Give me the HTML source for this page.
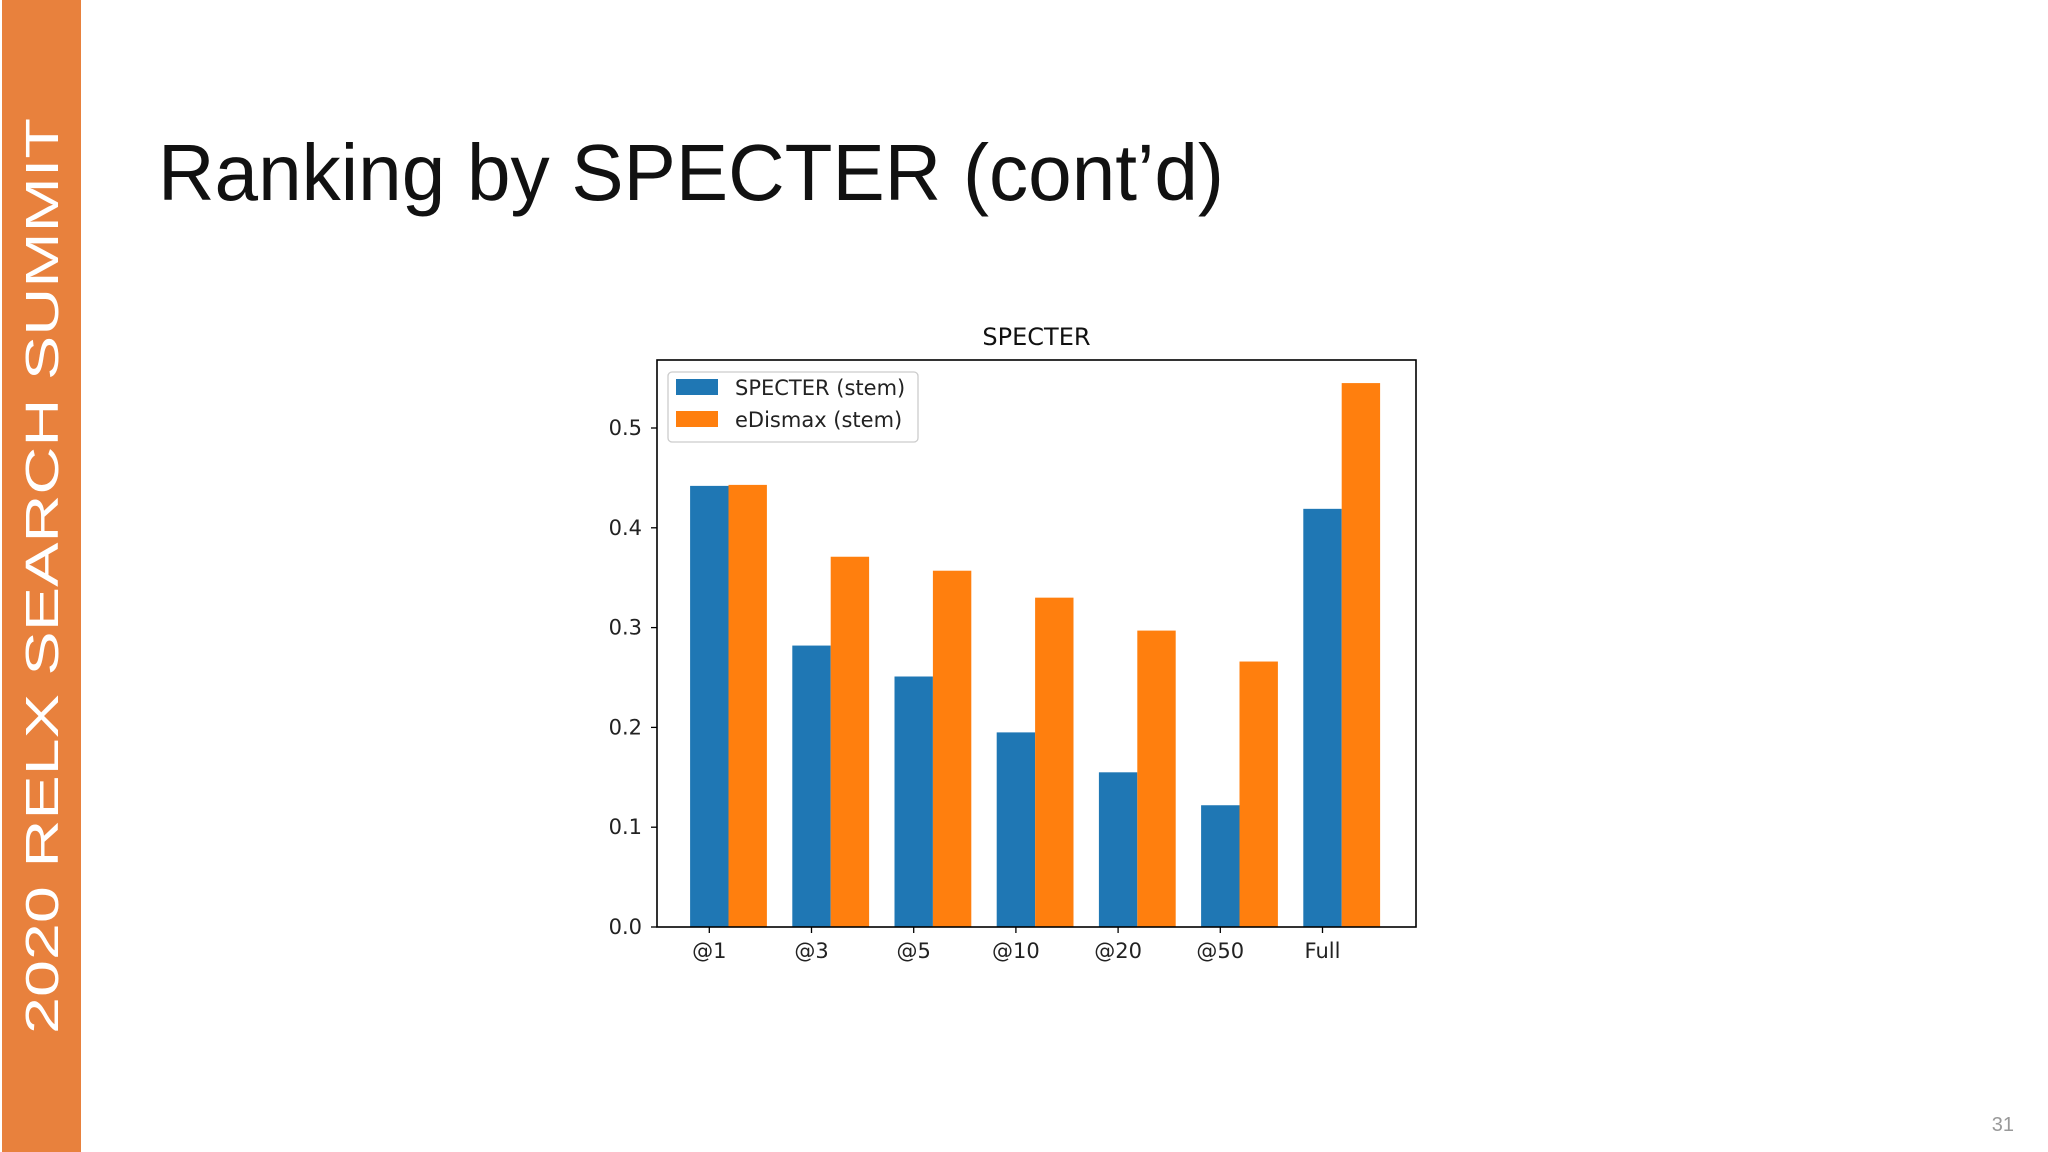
<!DOCTYPE html>
<html><head><meta charset="utf-8"><style>
html,body{margin:0;padding:0;background:#fff;}
svg{display:block;font-family:"DejaVu Sans","Liberation Sans",sans-serif;}
</style></head><body>
<svg id="s" width="2048" height="1152" viewBox="0 0 2048 1152">
<rect x="0" y="0" width="2048" height="1152" fill="#fff"/>
<rect x="2" y="0" width="79" height="1152" fill="#E8813D"/>
<text transform="translate(58,1034) rotate(-90)" fill="#fff" font-family="Liberation Sans, sans-serif" font-size="46" textLength="916" lengthAdjust="spacingAndGlyphs">2020 RELX SEARCH SUMMIT</text>
<text x="158" y="200" font-family="Liberation Sans, sans-serif" font-size="80" fill="#111" textLength="1066" lengthAdjust="spacingAndGlyphs">Ranking by SPECTER (cont’d)</text>
<text x="2014" y="1131" text-anchor="end" font-family="Liberation Sans, sans-serif" font-size="20" fill="#999">31</text>
<g id="chart"></g>
</svg>
<script>
const categories=["@1","@3","@5","@10","@20","@50","Full"];
const specterValues=[0.442,0.282,0.251,0.195,0.155,0.122,0.419];
const edismaxValues=[0.443,0.371,0.357,0.330,0.297,0.266,0.545];
const yTicks=[0.0,0.1,0.2,0.3,0.4,0.5];
const seriesNames=["SPECTER (stem)","eDismax (stem)"];
const NS="http://www.w3.org/2000/svg";
const g=document.getElementById('chart');
const L=657,R=1416,T=360,B=927;
const y0=927,perUnit=998;
function yS(v){return y0-v*perUnit;}
const c0=728.5,step=102.2,bw=38.4;
function xS(i){return c0+i*step;}
function mk(tag,attrs,parent){const e=document.createElementNS(NS,tag);for(const k in attrs)e.setAttribute(k,attrs[k]);(parent||g).appendChild(e);return e;}
categories.forEach((c,i)=>{
  const b=mk('rect',{x:xS(i)-bw,y:yS(specterValues[i]),width:bw,height:y0-yS(specterValues[i]),fill:'#1f77b4'});
  
  
  const o=mk('rect',{x:xS(i),y:yS(edismaxValues[i]),width:bw,height:y0-yS(edismaxValues[i]),fill:'#ff7f0e'});
  
  
  const tx=xS(i)-bw/2;
  const t=mk('line',{x1:tx,x2:tx,y1:B,y2:B+6,stroke:'#000','stroke-width':1.3});
  
  
  const l=mk('text',{x:tx,y:B+31,'text-anchor':'middle','font-size':21,fill:'#222'});
  l.textContent=c;
  
  
});
yTicks.forEach(v=>{
  const t=mk('line',{x1:L-6,x2:L,y1:yS(v),y2:yS(v),stroke:'#000','stroke-width':1.3});
  
  
  const l=mk('text',{x:L-15,y:yS(v)+7,'text-anchor':'end','font-size':21,fill:'#222'});
  l.textContent=v.toFixed(1);
  
  
});
const frame=mk('rect',{x:L,y:T,width:R-L,height:B-T,fill:'none',stroke:'#000','stroke-width':1.6});


const title=mk('text',{x:(L+R)/2,y:345,'text-anchor':'middle','font-size':24,fill:'#111'});
title.textContent='SPECTER';


const lg=mk('g',{});


mk('rect',{x:668,y:372,width:250,height:70,rx:4,fill:'#fff',stroke:'#ccc','stroke-width':1.3},lg);
const cols=['#1f77b4','#ff7f0e'];
seriesNames.forEach((n,i)=>{
  const p=mk('rect',{x:676,y:379+i*32,width:42,height:16,fill:cols[i]},lg);
  
  
  const t=mk('text',{x:735,y:395+i*32,'font-size':21,fill:'#222'},lg);
  t.textContent=n;
  
  
});
</script>
</body></html>
